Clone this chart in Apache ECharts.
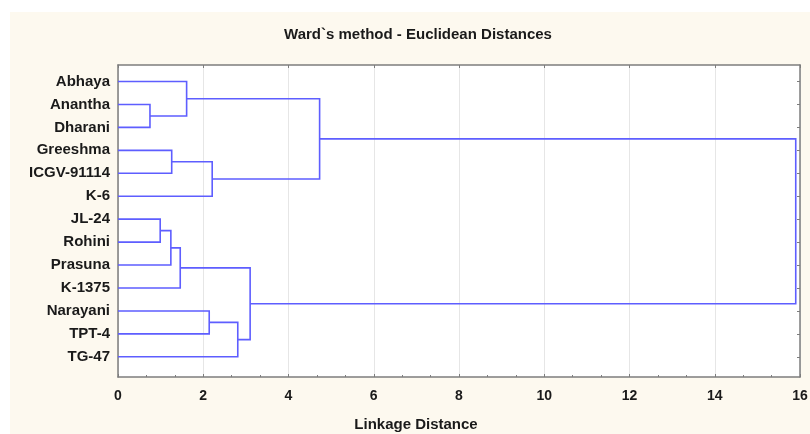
<!DOCTYPE html>
<html>
<head>
<meta charset="utf-8">
<script src="https://cdn.jsdelivr.net/npm/echarts@6/dist/echarts.min.js"></script>
<style>
  html, body { margin: 0; padding: 0; background: #ffffff; }
  #chart { width: 810px; height: 434px; }
</style>
</head>
<body>
<div id="chart"></div>
<script>
// Leaves in display order (top to bottom)
const leaves = ['Abhaya', 'Anantha', 'Dharani', 'Greeshma', 'ICGV-91114', 'K-6',
  'JL-24', 'Rohini', 'Prasuna', 'K-1375', 'Narayani', 'TPT-4', 'TG-47'];

// Agglomeration steps: each joins two nodes (leaf names or earlier step ids) at a linkage distance
const mergeLeft   = ['Anantha', 'Abhaya', 'Greeshma', 'S3', 'S2', 'JL-24', 'S6', 'S7', 'Narayani', 'S9', 'S8', 'S5'];
const mergeRight  = ['Dharani', 'S1', 'ICGV-91114', 'K-6', 'S4', 'Rohini', 'Prasuna', 'K-1375', 'TPT-4', 'TG-47', 'S10', 'S11'];
const mergeHeight = [0.75, 1.61, 1.26, 2.21, 4.73, 0.99, 1.24, 1.46, 2.14, 2.81, 3.10, 15.90];

const xTicks = [0, 2, 4, 6, 8, 10, 12, 14, 16];

// Resolve node positions: leaves sit at their index, clusters at the midpoint of their two children
const nodePos = {};
leaves.forEach((name, i) => { nodePos[name] = { y: i, h: 0 }; });
const links = [];
mergeHeight.forEach((h, i) => {
  const a = nodePos[mergeLeft[i]];
  const b = nodePos[mergeRight[i]];
  nodePos['S' + (i + 1)] = { y: (a.y + b.y) / 2, h: h };
  links.push([h, a.y, a.h, b.y, b.h]);
});

const leafIdx = leaves.map((_, i) => i);
const chart = echarts.init(document.getElementById('chart'));
const fontFam = '"Liberation Sans", Arial, sans-serif';
const frameColor = '#7d7d7d';
const textColor = '#1a1a1a';

chart.setOption({
  backgroundColor: '#ffffff',
  animation: false,
  graphic: [{
    type: 'rect', z: -10, silent: true,
    shape: { x: 10, y: 12, width: 800, height: 422 },
    style: { fill: '#fdf9ef' }
  }],
  title: {
    text: 'Ward`s method - Euclidean Distances',
    left: 413, top: 22, textAlign: 'center',
    textStyle: { fontFamily: fontFam, fontWeight: 'bold', fontSize: 15, color: textColor }
  },
  grid: {
    left: 118, right: 10, top: 65, bottom: 57,
    outerBoundsMode: 'none', containLabel: false,
    show: true, backgroundColor: '#ffffff', borderWidth: 0
  },
  xAxis: [{
    type: 'value', min: 0, max: 16, interval: 2, position: 'bottom',
    name: 'Linkage Distance', nameLocation: 'middle', nameGap: 40,
    nameTextStyle: {
      fontFamily: fontFam, fontWeight: 'bold', fontSize: 15, color: textColor,
      padding: [0, 86, 0, 0]
    },
    axisLine: { show: true, onZero: false, lineStyle: { color: frameColor, width: 1.5 } },
    axisTick: { show: true, inside: true, length: 3, lineStyle: { color: frameColor } },
    minorTick: { show: true, splitNumber: 3, length: 2, lineStyle: { color: frameColor } },
    axisLabel: {
      margin: 12, fontFamily: fontFam, fontWeight: 'bold', fontSize: 14, color: textColor,
      customValues: xTicks
    },
    splitLine: { show: true, lineStyle: { color: '#e6e6e6', width: 1 } }
  }, {
    type: 'value', min: 0, max: 16, interval: 2, position: 'top',
    axisLine: { show: true, onZero: false, lineStyle: { color: frameColor, width: 1.5 } },
    axisTick: { show: true, inside: true, length: 3, lineStyle: { color: frameColor } },
    axisLabel: { show: false },
    splitLine: { show: false }
  }],
  yAxis: [{
    type: 'value', inverse: true, min: -0.72, max: 12.88, position: 'left',
    axisLine: { show: true, onZero: false, lineStyle: { color: frameColor, width: 1.5 } },
    axisTick: { show: false },
    axisLabel: {
      margin: 8, fontFamily: fontFam, fontWeight: 'bold', fontSize: 15, color: textColor,
      customValues: leafIdx,
      formatter: v => leaves[Math.round(v)]
    },
    splitLine: { show: false }
  }, {
    type: 'value', inverse: true, min: -0.72, max: 12.88, position: 'right',
    axisLine: { show: true, onZero: false, lineStyle: { color: frameColor, width: 1.5 } },
    axisTick: { show: true, inside: true, length: 3, customValues: leafIdx, lineStyle: { color: frameColor } },
    axisLabel: { show: false },
    splitLine: { show: false }
  }],
  series: [{
    type: 'custom',
    xAxisIndex: 0, yAxisIndex: 0,
    clip: false,
    data: links,
    renderItem: function (params, api) {
      const h = api.value(0);
      const p1 = api.coord([api.value(2), api.value(1)]);
      const p2 = api.coord([h, api.value(1)]);
      const p3 = api.coord([h, api.value(3)]);
      const p4 = api.coord([api.value(4), api.value(3)]);
      return {
        type: 'polyline',
        shape: { points: [p1, p2, p3, p4] },
        style: { stroke: '#5e5eff', lineWidth: 1.6, fill: 'none' }
      };
    }
  }]
});
</script>
</body>
</html>
